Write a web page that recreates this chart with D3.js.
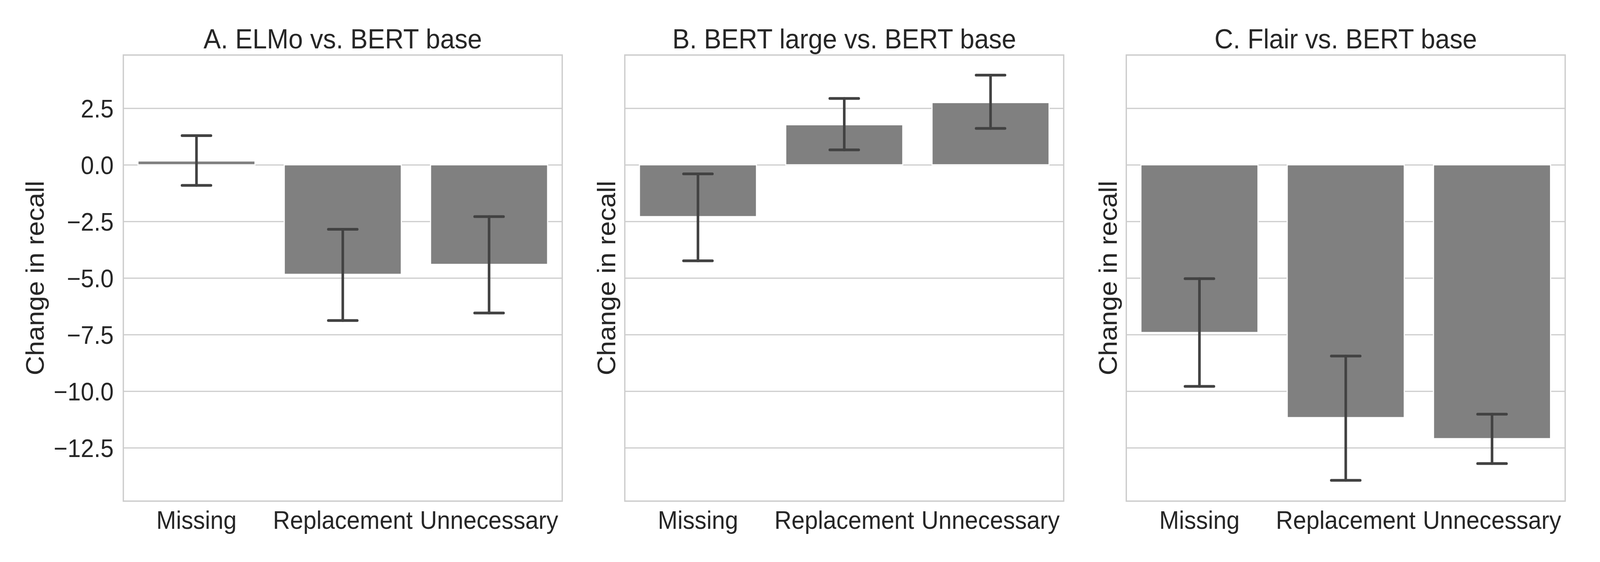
<!DOCTYPE html>
<html>
<head>
<meta charset="utf-8">
<script src="https://cdnjs.cloudflare.com/ajax/libs/d3/7.8.5/d3.min.js"></script>
<style>
  html, body { margin: 0; padding: 0; background: #fff; overflow: hidden; width: 100%; height: 100%; }
  #viz svg { display: block; }
  svg text { font-family: "Liberation Sans", Arial, sans-serif; fill: #262626; }
</style>
</head>
<body>
<div id="viz"></div>
<script>
// data
var categories = ["Missing", "Replacement", "Unnecessary"];
var panelTitles = ["A. ELMo vs. BERT base", "B. BERT large vs. BERT base", "C. Flair vs. BERT base"];

var elmoMean = [0.17, -4.84, -4.40];
var elmoLow  = [-0.91, -6.88, -6.55];
var elmoHigh = [1.29, -2.85, -2.29];

var bertLargeMean = [-2.29, 1.77, 2.75];
var bertLargeLow  = [-4.24, 0.66, 1.61];
var bertLargeHigh = [-0.40, 2.93, 3.96];

var flairMean = [-7.41, -11.17, -12.10];
var flairLow  = [-9.79, -13.94, -13.20];
var flairHigh = [-5.03, -8.45, -11.02];

var yTicks = [-12.5, -10, -7.5, -5, -2.5, 0, 2.5];
var yDomain = [-14.86, 4.85];
var yLabel = "Change in recall";

var panelMeans = [elmoMean, bertLargeMean, flairMean];
var panelLows = [elmoLow, bertLargeLow, flairLow];
var panelHighs = [elmoHigh, bertLargeHigh, flairHigh];

// layout (in figure pixels, the svg is stretched to the window through its viewBox)
var WIDTH = 4320, HEIGHT = 1440;
var PANEL_LEFT = [333, 1687, 3041];
var PANEL_W = 1185;
var PLOT_TOP = 141, PLOT_BOTTOM = 1284;
var CAP_HALF = 39;

var svg = d3.select("#viz")
  .append("svg")
  .attr("viewBox", "0 0 " + WIDTH + " " + HEIGHT)
  .attr("preserveAspectRatio", "none")
  .style("width", "100vw")
  .style("height", "100vh");

svg.append("rect")
  .attr("width", WIDTH)
  .attr("height", HEIGHT)
  .attr("fill", "#fff");

var y = d3.scaleLinear()
  .domain(yDomain)
  .range([PLOT_BOTTOM, PLOT_TOP]);

var fmt = d3.format(".1f");

function drawPanel(p) {
  var left = PANEL_LEFT[p];
  var x = d3.scaleBand()
    .domain(categories)
    .range([left, left + PANEL_W])
    .paddingInner(0.2)
    .paddingOuter(0.1);

  var rows = categories.map(function(c, i) {
    return {cat: c, mean: panelMeans[p][i], low: panelLows[p][i], high: panelHighs[p][i]};
  });

  var g = svg.append("g").attr("class", "panel");

  // horizontal grid
  g.append("g")
    .attr("transform", "translate(" + left + ",0)")
    .call(d3.axisLeft(y).tickValues(yTicks).tickSize(-PANEL_W).tickFormat(""))
    .call(function(a) {
      a.select(".domain").remove();
      a.selectAll("line").attr("stroke", "#cccccc").attr("stroke-width", 3);
    });

  // bars
  g.selectAll("rect.bar")
    .data(rows)
    .enter()
    .append("rect")
    .attr("class", "bar")
    .attr("x", function(d) { return x(d.cat); })
    .attr("width", x.bandwidth())
    .attr("y", function(d) { return y(Math.max(0, d.mean)); })
    .attr("height", function(d) { return Math.abs(y(d.mean) - y(0)); })
    .attr("fill", "#808080")
    .attr("stroke", "#fff")
    .attr("stroke-width", 3);

  // error bars with caps
  var err = g.selectAll("g.err")
    .data(rows)
    .enter()
    .append("g")
    .attr("class", "err")
    .attr("stroke", "#424242")
    .attr("stroke-width", 7)
    .attr("stroke-linecap", "round");

  err.append("line")
    .attr("x1", function(d) { return x(d.cat) + x.bandwidth() / 2; })
    .attr("x2", function(d) { return x(d.cat) + x.bandwidth() / 2; })
    .attr("y1", function(d) { return y(d.low); })
    .attr("y2", function(d) { return y(d.high); });

  ["low", "high"].forEach(function(k) {
    err.append("line")
      .attr("x1", function(d) { return x(d.cat) + x.bandwidth() / 2 - CAP_HALF; })
      .attr("x2", function(d) { return x(d.cat) + x.bandwidth() / 2 + CAP_HALF; })
      .attr("y1", function(d) { return y(d[k]); })
      .attr("y2", function(d) { return y(d[k]); });
  });

  // frame (all four spines, light grey)
  g.append("rect")
    .attr("x", left)
    .attr("y", PLOT_TOP)
    .attr("width", PANEL_W)
    .attr("height", PLOT_BOTTOM - PLOT_TOP)
    .attr("fill", "none")
    .attr("stroke", "#cccccc")
    .attr("stroke-width", 3.5);

  // x tick labels
  g.append("g")
    .attr("transform", "translate(0," + PLOT_BOTTOM + ")")
    .call(d3.axisBottom(x).tickSize(0).tickPadding(0))
    .call(function(a) {
      a.select(".domain").remove();
      a.selectAll("text")
        .attr("dy", null)
        .attr("y", 71)
        .style("font-size", "64px")
        .attr("fill", "#262626");
    });

  // y tick labels only on the first panel
  if (p === 0) {
    g.append("g")
      .attr("transform", "translate(" + left + ",0)")
      .call(d3.axisLeft(y).tickValues(yTicks).tickSize(0).tickPadding(26).tickFormat(fmt))
      .call(function(a) {
        a.select(".domain").remove();
        a.selectAll("text")
          .attr("dy", "0.36em")
          .style("font-size", "64px")
          .attr("fill", "#262626");
      });
  }

  // y axis label
  var labelX = p === 0 ? 118 : left - 26;
  g.append("text")
    .attr("transform", "translate(" + labelX + "," + (PLOT_TOP + PLOT_BOTTOM) / 2 + ") rotate(-90)")
    .attr("text-anchor", "middle")
    .style("font-size", "69px")
    .text(yLabel);

  // title
  g.append("text")
    .attr("x", left + PANEL_W / 2)
    .attr("y", 124)
    .attr("text-anchor", "middle")
    .style("font-size", "70px")
    .text(panelTitles[p]);
}

for (var p = 0; p < 3; p++) {
  drawPanel(p);
}
</script>
</body>
</html>
